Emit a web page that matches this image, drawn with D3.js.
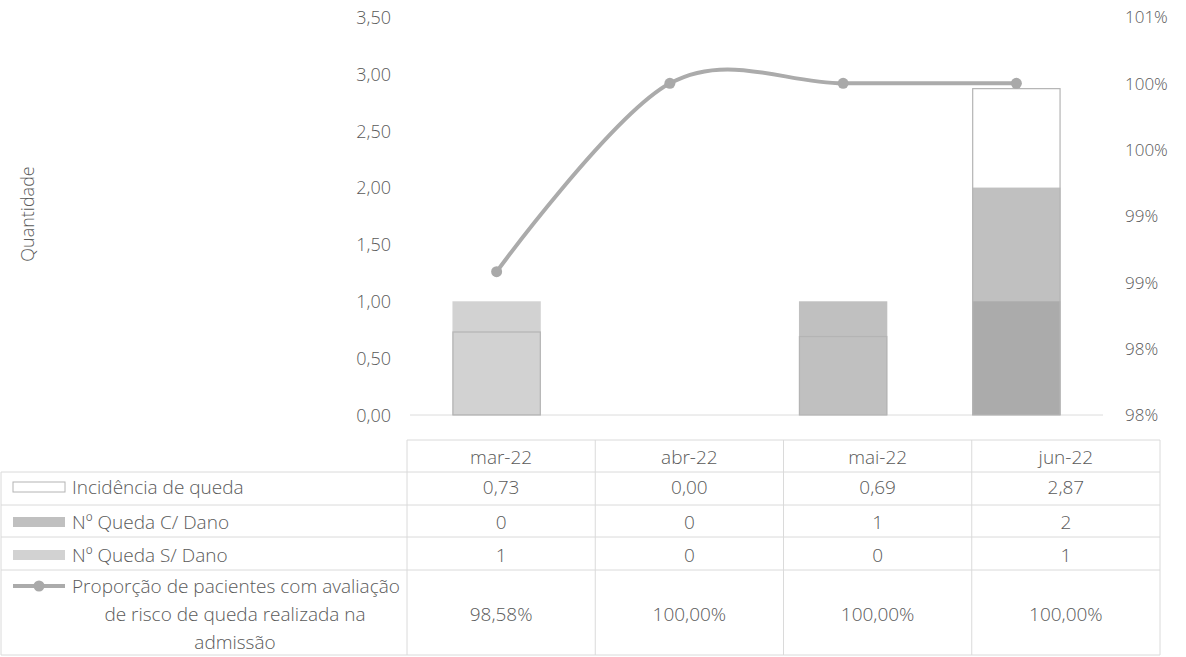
<!DOCTYPE html>
<html>
<head>
<meta charset="utf-8">
<script src="https://cdn.jsdelivr.net/npm/d3@7/dist/d3.min.js"></script>
<style>
  html, body { margin: 0; padding: 0; background: #fff; }
  svg { display: block; }
  text { font-family: "Open Sans", "Lato", sans-serif; font-weight: 300; fill: #5a5a5a; }
</style>
</head>
<body>
<svg id="chart" width="1186" height="657"></svg>
<script>
// ---- data ----
const categories = ["mar-22", "abr-22", "mai-22", "jun-22"];
const incidencia = [0.73, 0.00, 0.69, 2.87];
const quedaComDano = [0, 0, 1, 2];
const quedaSemDano = [1, 0, 0, 1];
const proporcao = [0.9858, 1.0, 1.0, 1.0];
const leftTicks = [0, 0.5, 1, 1.5, 2, 2.5, 3, 3.5];
const rightTicks = [0.975, 0.98, 0.985, 0.99, 0.995, 1.0, 1.005];
const rightTickLabels = ["98%", "98%", "99%", "99%", "100%", "100%", "101%"];
const seriesNames = ["Incidência de queda", "Nº Queda C/ Dano", "Nº Queda S/ Dano"];
const lineSeriesName = ["Proporção de pacientes com avaliação", "de risco de queda realizada na", "admissão"];
const yTitle = "Quantidade";

// ---- layout ----
const svg = d3.select("#chart");
const plotLeft = 410, plotRight = 1103, plotTop = 17, plotBottom = 415;
const tableLeft = 407, tableRight = 1160;
const rowBounds = [440, 472, 505, 537, 570, 655];

const x = d3.scaleBand().domain(categories).range([plotLeft, plotRight]).paddingInner(0.49).paddingOuter(0.245);
const xt = d3.scaleBand().domain(categories).range([tableLeft, tableRight]).padding(0);
const y = d3.scaleLinear().domain([0, 3.5]).range([plotBottom, plotTop]);
const y2 = d3.scaleLinear().domain([0.975, 1.005]).range([plotBottom, plotTop]);

const fmt2 = v => d3.format(".2f")(v).replace(".", ",");
const fmtPct = v => d3.format(".2f")(v * 100).replace(".", ",") + "%";

// left axis
const leftAxis = d3.axisLeft(y).tickValues(leftTicks).tickSize(0).tickPadding(0).tickFormat(fmt2);
const gL = svg.append("g").attr("transform", "translate(391,0)").call(leftAxis);
gL.select(".domain").remove();
gL.selectAll("text").style("font-size", "18px").attr("dy", "0.35em");

// right axis
const rightAxis = d3.axisRight(y2).tickValues(rightTicks).tickSize(0).tickPadding(0)
  .tickFormat((d, i) => rightTickLabels[i]);
const gR = svg.append("g").attr("transform", "translate(1125,0)").call(rightAxis);
gR.select(".domain").remove();
gR.selectAll("text").style("font-size", "17px").attr("dy", "0.35em");

// y title
svg.append("text").attr("transform", "translate(28,214) rotate(-90)")
  .attr("text-anchor", "middle").attr("dy", "0.35em").style("font-size", "18px").text(yTitle);

// baseline
svg.append("line").attr("x1", plotLeft).attr("x2", plotRight).attr("y1", y(0)).attr("y2", y(0))
  .attr("stroke", "#dcdcdc").attr("stroke-width", 1);

// bars: C/ Dano (solid), S/ Dano (translucent on top), Incidência (outline on top)
const bars = svg.append("g");
bars.selectAll(".com").data(categories).join("rect")
  .attr("x", d => x(d)).attr("width", x.bandwidth())
  .attr("y", (d, i) => y(quedaComDano[i])).attr("height", (d, i) => y(0) - y(quedaComDano[i]))
  .attr("fill", "#c0c0c0");
bars.selectAll(".sem").data(categories).join("rect")
  .attr("x", d => x(d)).attr("width", x.bandwidth())
  .attr("y", (d, i) => y(quedaSemDano[i])).attr("height", (d, i) => y(0) - y(quedaSemDano[i]))
  .attr("fill", "#8a8a8a").attr("fill-opacity", 0.38);
bars.selectAll(".inc").data(categories.filter((d, i) => incidencia[i] > 0)).join("rect")
  .attr("x", d => x(d) + 0.5).attr("width", x.bandwidth() - 1)
  .attr("y", d => y(incidencia[categories.indexOf(d)]))
  .attr("height", d => y(0) - y(incidencia[categories.indexOf(d)]))
  .attr("fill", "none").attr("stroke", "#b4b4b4").attr("stroke-width", 1.2);

// line
const pts = categories.map((c, i) => [x(c) + x.bandwidth() / 2, y2(proporcao[i])]);
svg.append("path").attr("d", d3.line().curve(d3.curveCardinal.tension(0))(pts))
  .attr("fill", "none").attr("stroke", "#ababab").attr("stroke-width", 4);
svg.selectAll(".mk").data(pts).join("circle")
  .attr("cx", d => d[0]).attr("cy", d => d[1]).attr("r", 5.5).attr("fill", "#a9a9a9");

// ---- data table ----
const grid = svg.append("g").attr("stroke", "#dadada").attr("stroke-width", 1);
grid.append("line").attr("x1", tableLeft).attr("x2", tableRight).attr("y1", rowBounds[0]).attr("y2", rowBounds[0]);
rowBounds.slice(1).forEach(yy => grid.append("line").attr("x1", 1).attr("x2", tableRight).attr("y1", yy).attr("y2", yy));
categories.forEach(c => grid.append("line").attr("x1", xt(c)).attr("x2", xt(c)).attr("y1", rowBounds[0]).attr("y2", rowBounds[5]));
grid.append("line").attr("x1", tableRight).attr("x2", tableRight).attr("y1", rowBounds[0]).attr("y2", rowBounds[5]);
grid.append("line").attr("x1", 1).attr("x2", 1).attr("y1", rowBounds[1]).attr("y2", rowBounds[5]);

const cellText = (cx, cy, t, size) => svg.append("text").attr("x", cx).attr("y", cy)
  .attr("text-anchor", "middle").attr("dy", "0.35em").style("font-size", size + "px").text(t);

const rowY = [457, 487, 522, 555, 614];
categories.forEach((c, i) => {
  const cx = xt(c) + xt.bandwidth() / 2;
  cellText(cx, rowY[0], c, 19);
  cellText(cx, rowY[1], fmt2(incidencia[i]), 19);
  cellText(cx, rowY[2], String(quedaComDano[i]), 19);
  cellText(cx, rowY[3], String(quedaSemDano[i]), 19);
  cellText(cx, rowY[4], fmtPct(proporcao[i]), 19);
});

// legend keys + labels
const keyX = 13, keyW = 52, keyH = 10, labelX = 72;
svg.append("rect").attr("x", keyX).attr("y", rowY[1] - keyH / 2).attr("width", keyW).attr("height", keyH)
  .attr("fill", "#fff").attr("stroke", "#b4b4b4");
svg.append("rect").attr("x", keyX).attr("y", rowY[2] - keyH / 2).attr("width", keyW).attr("height", keyH)
  .attr("fill", "#c0c0c0");
svg.append("rect").attr("x", keyX).attr("y", rowY[3] - keyH / 2).attr("width", keyW).attr("height", keyH)
  .attr("fill", "#8a8a8a").attr("fill-opacity", 0.38);
svg.append("line").attr("x1", keyX).attr("x2", keyX + keyW).attr("y1", 586).attr("y2", 586)
  .attr("stroke", "#ababab").attr("stroke-width", 4);
svg.append("circle").attr("cx", keyX + keyW / 2).attr("cy", 586).attr("r", 5.5).attr("fill", "#a9a9a9");

[seriesNames[0], seriesNames[1], seriesNames[2]].forEach((t, i) => {
  svg.append("text").attr("x", labelX).attr("y", rowY[i + 1]).attr("dy", "0.35em")
    .style("font-size", "19px").text(t);
});
svg.append("text").attr("x", labelX).attr("y", 586).attr("dy", "0.35em").style("font-size", "19px").text(lineSeriesName[0]);
svg.append("text").attr("x", 235).attr("y", 614).attr("dy", "0.35em").attr("text-anchor", "middle").style("font-size", "19px").text(lineSeriesName[1]);
svg.append("text").attr("x", 235).attr("y", 642).attr("dy", "0.35em").attr("text-anchor", "middle").style("font-size", "19px").text(lineSeriesName[2]);
</script>
</body>
</html>
